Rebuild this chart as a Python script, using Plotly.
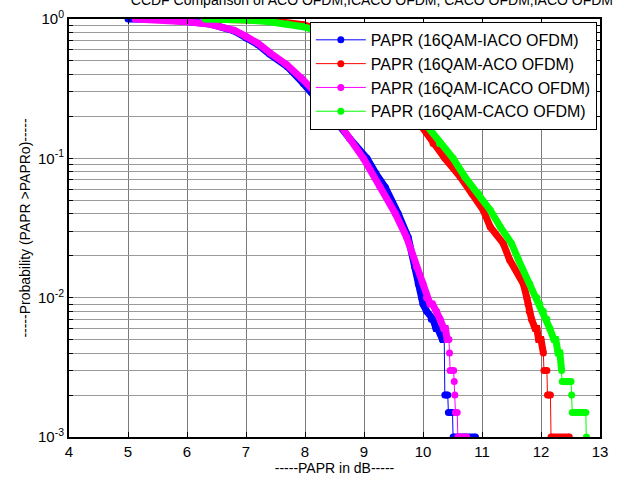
import plotly.graph_objects as go

# ---------------- data ----------------
x_ticks = [4, 5, 6, 7, 8, 9, 10, 11, 12, 13]
y_major = [1e-3, 1e-2, 1e-1, 1e0]
y_major_text = ["10<sup>-3</sup>", "10<sup>-2</sup>", "10<sup>-1</sup>", "10<sup>0</sup>"]

series_names = ["PAPR (16QAM-IACO OFDM)", "PAPR (16QAM-ACO OFDM)",
                "PAPR (16QAM-ICACO OFDM)", "PAPR (16QAM-CACO OFDM)"]
series_colors = ["#0000FF", "#FF0000", "#FF00FF", "#00FF00"]

iaco_x = [5.00, 5.50, 6.00, 6.40, 6.80, 7.00, 7.20, 7.40, 7.70, 7.97, 8.20, 8.50,
          8.75, 9.05, 9.20, 9.36, 9.58, 9.75, 9.86, 9.92, 9.98, 10.00, 10.06, 10.14,
          10.17, 10.22, 10.25, 10.33, 10.36, 10.37, 10.42, 10.43, 10.50, 10.51, 10.89, 10.90]
iaco_p = [1.0, 0.995, 0.96, 0.92, 0.82, 0.73, 0.655, 0.56, 0.455, 0.345, 0.27, 0.19,
          0.14, 0.10, 0.078, 0.062, 0.040, 0.027, 0.0166, 0.0126, 0.010, 0.009, 0.008, 0.007,
          0.007, 0.006, 0.006, 0.005, 0.005, 0.002, 0.002, 0.0015, 0.0015, 0.001, 0.001, 0.0005]

aco_x = [6.35, 6.90, 7.40, 7.97, 8.30, 8.70, 9.00, 9.30, 9.60, 9.94, 10.17, 10.37,
         10.63, 10.83, 11.02, 11.14, 11.36, 11.47, 11.70, 11.76, 11.78, 11.80, 11.84, 11.90,
         11.93, 11.96, 12.00, 12.04, 12.05, 12.10, 12.11, 12.16, 12.17, 12.48, 12.49]
aco_p = [1.0, 0.995, 0.975, 0.91, 0.83, 0.68, 0.53, 0.40, 0.28, 0.178, 0.128, 0.10,
         0.0736, 0.056, 0.0425, 0.0322, 0.0245, 0.0186, 0.0126, 0.010, 0.009, 0.008, 0.007, 0.006,
         0.006, 0.005, 0.005, 0.004, 0.003, 0.003, 0.002, 0.002, 0.001, 0.001, 0.0005]

icaco_x = [5.12, 5.50, 6.00, 6.40, 6.80, 7.00, 7.20, 7.41, 7.69, 7.94, 8.20, 8.54,
           8.75, 8.99, 9.27, 9.53, 9.72, 9.89, 10.00, 10.06, 10.12, 10.16, 10.23, 10.29,
           10.35, 10.38, 10.41, 10.44, 10.45, 10.46, 10.52, 10.53, 10.54, 10.55, 10.58, 10.59,
           10.74, 10.75]
icaco_p = [1.0, 0.99, 0.955, 0.915, 0.83, 0.75, 0.67, 0.57, 0.47, 0.375, 0.29, 0.188,
           0.14, 0.10, 0.0624, 0.0402, 0.0273, 0.0166, 0.0126, 0.010, 0.009, 0.009, 0.008, 0.007,
           0.006, 0.006, 0.005, 0.005, 0.004, 0.003, 0.003, 0.0025, 0.002, 0.0015, 0.0015, 0.001,
           0.001, 0.0005]

caco_x = [6.31, 6.70, 7.00, 7.40, 7.70, 7.97, 8.30, 8.70, 9.00, 9.30, 9.60, 10.02,
          10.28, 10.51, 10.71, 10.94, 11.14, 11.31, 11.50, 11.62, 11.81, 11.93, 11.98, 12.04,
          12.10, 12.15, 12.22, 12.25, 12.29, 12.32, 12.35, 12.36, 12.51, 12.52, 12.53, 12.76,
          12.77, 12.78]
caco_p = [1.0, 0.995, 0.983, 0.956, 0.92, 0.88, 0.80, 0.66, 0.53, 0.41, 0.30, 0.178,
          0.128, 0.10, 0.0736, 0.056, 0.0425, 0.0322, 0.0245, 0.0186, 0.0126, 0.010, 0.009, 0.008,
          0.007, 0.006, 0.005, 0.005, 0.004, 0.004, 0.003, 0.0025, 0.0025, 0.002, 0.0015, 0.0015,
          0.001, 0.0005]

title_text = "CCDF Comparison of ACO OFDM,ICACO OFDM, CACO OFDM,IACO OFDM"
x_title = "-----PAPR in dB-----"
y_title = "-----Probability (PAPR >PAPRo)-----"

# ---------------- figure ----------------
def thick_path(xs, ps):
    """Dense-marker band: break the band at near-vertical CCDF drops."""
    tx, tp = [], []
    for i in range(len(xs)):
        if i > 0 and (xs[i] - xs[i - 1]) < 0.015 and ps[i] != ps[i - 1]:
            tx.append(None)
            tp.append(None)
        tx.append(xs[i])
        tp.append(ps[i])
    return tx, tp

all_x = [iaco_x, aco_x, icaco_x, caco_x]
all_p = [iaco_p, aco_p, icaco_p, caco_p]

fig = go.Figure()
for name, col, xs, ps in zip(series_names, series_colors, all_x, all_p):
    tx, tp = thick_path(xs, ps)
    fig.add_trace(go.Scatter(x=tx, y=tp, mode="lines", line=dict(color=col, width=7),
                             connectgaps=False, showlegend=False, legendgroup=name,
                             hoverinfo="skip"))
    fig.add_trace(go.Scatter(x=xs, y=ps, mode="lines+markers", name=name, legendgroup=name,
                             line=dict(color=col, width=1),
                             marker=dict(color=col, size=7, symbol="circle")))

minor_vals = []
for dec in [1e-3, 1e-2, 1e-1]:
    for k in range(2, 10):
        minor_vals.append(round(dec * k, 6))
y_vals = y_major + minor_vals
y_text = y_major_text + [""] * len(minor_vals)

fig.update_layout(
    width=624, height=480,
    margin=dict(l=69, r=24, t=19, b=43, autoexpand=False),
    paper_bgcolor="white", plot_bgcolor="white",
    font=dict(family="Arial, Liberation Sans, sans-serif", size=14, color="black"),
    title=dict(text=title_text, x=0.596, xanchor="center", xref="container",
               y=1.0, yanchor="middle", yref="container",
               font=dict(size=14, color="black")),
    legend=dict(x=0.994, xanchor="right", y=0.993, yanchor="top",
                bgcolor="white", bordercolor="black", borderwidth=1,
                font=dict(size=16), tracegroupgap=0, itemwidth=50),
    showlegend=True,
)
fig.update_xaxes(range=[4, 13], tickvals=x_ticks, ticktext=[str(v) for v in x_ticks],
                 ticks="inside", ticklen=5, tickcolor="black", automargin=False,
                 showgrid=True, gridcolor="#7a7a7a", gridwidth=1,
                 showline=True, linecolor="black", linewidth=2, mirror="ticks",
                 zeroline=False, tickfont=dict(size=15),
                 title=dict(text=x_title, font=dict(size=14), standoff=4))
fig.update_yaxes(type="log", range=[-3, 0], tickvals=y_vals, ticktext=y_text,
                 ticks="inside", ticklen=4, tickcolor="black", automargin=False,
                 showgrid=True, gridcolor="#9a9a9a", gridwidth=1,
                 showline=True, linecolor="black", linewidth=2, mirror="ticks",
                 zeroline=False, tickfont=dict(size=15),
                 title=dict(text=y_title, font=dict(size=14), standoff=4))

fig.write_html("out.html", config={"displayModeBar": False},
               post_script="document.body.style.margin='0';document.body.style.overflow='hidden';")
